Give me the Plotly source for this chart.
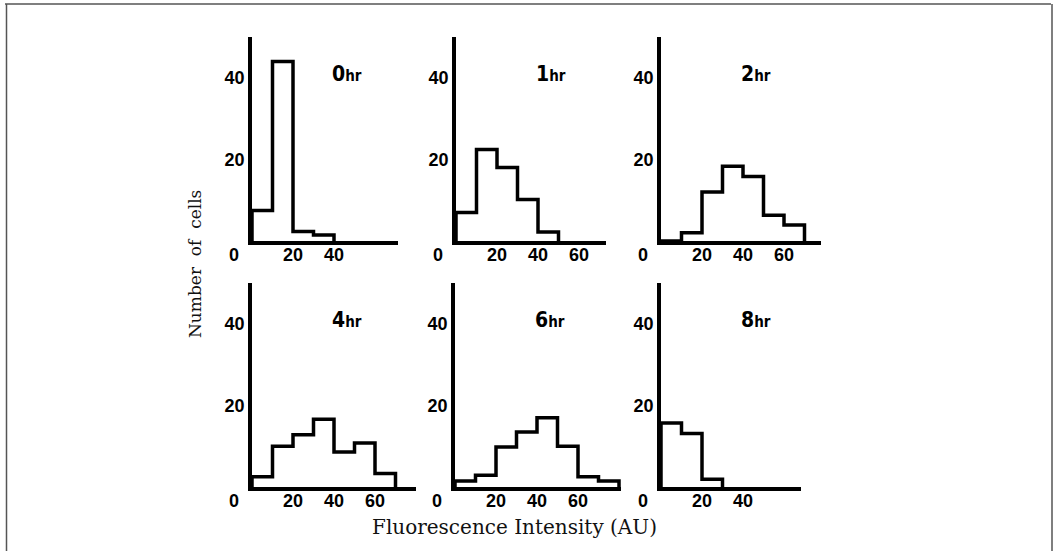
import plotly.graph_objects as go

# ---------------- data ----------------
hours = ["0", "1", "2", "4", "6", "8"]
bin_width = 10
counts_0hr = [7.5, 44, 2.3, 1.5]
counts_1hr = [7, 22.4, 18, 10.2, 2.2]
counts_2hr = [0, 2, 12, 18.3, 15.8, 6.3, 3.9]
counts_4hr = [2.5, 10, 12.8, 16.6, 8.6, 10.8, 3.3]
counts_6hr = [1.5, 2.9, 9.8, 13.5, 17, 10, 2.5, 1.5]
counts_8hr = [15.7, 13.1, 1.9]
all_counts = [counts_0hr, counts_1hr, counts_2hr, counts_4hr, counts_6hr, counts_8hr]
x_tick_vals = [[20, 40], [20, 40, 60], [20, 40, 60], [20, 40, 60], [20, 40, 60], [20, 40]]
y_tick_vals = [20, 40]
x_title = "Fluorescence Intensity (AU)"
y_title = "Number&nbsp; of&nbsp; cells"

# ---------------- layout geometry (pixels) ----------------
W, H = 1056, 551
px_per_unit = 2.05
panel_left = [252, 456, 661, 252, 455, 661]
panel_base = [241, 241, 241, 487, 487, 487]
panel_height = 204
x_max = [71, 73, 78, 80, 81, 68.5]
y_max = 50

def px(x):
    return x / W

def py(y):
    return 1 - y / H

fig = go.Figure()
layout = dict(
    width=W, height=H, autosize=False,
    margin=dict(l=0, r=0, t=0, b=0),
    paper_bgcolor="white", plot_bgcolor="white",
    showlegend=False,
)

annotations = []
tick_font = dict(family="Liberation Sans, Arial, sans-serif", size=18, color="black", weight="bold")

for i, counts in enumerate(all_counts):
    n = i + 1
    xa = "x" if n == 1 else f"x{n}"
    ya = "y" if n == 1 else f"y{n}"
    edges = [k * bin_width for k in range(len(counts) + 1)]
    xs = [0] + edges
    ys = [0] + list(counts) + [0]
    fig.add_trace(go.Scatter(
        x=xs, y=ys, mode="lines", line=dict(color="black", width=3.5, shape="hv"),
        xaxis=xa, yaxis=ya, hoverinfo="skip", cliponaxis=False,
    ))
    left = panel_left[i]
    right = left + x_max[i] * px_per_unit
    base = panel_base[i]
    top = base - panel_height
    layout[f"xaxis{'' if n == 1 else n}"] = dict(
        domain=[px(left), px(right)], anchor=ya, range=[0, x_max[i]],
        showgrid=False, zeroline=False, showline=True, linecolor="black", linewidth=3.5,
        tickvals=x_tick_vals[i], ticks="", tickfont=tick_font, ticklabelstandoff=-5,
    )
    layout[f"yaxis{'' if n == 1 else n}"] = dict(
        domain=[py(base), py(top)], anchor=xa, range=[0, y_max],
        showgrid=False, zeroline=False, showline=True, linecolor="black", linewidth=3.5,
        tickvals=y_tick_vals, ticks="", tickfont=tick_font, ticklabelstandoff=0,
    )
    # corner "0" label
    annotations.append(dict(
        text="0", xref=f"{xa} domain", yref=f"{ya} domain", x=0, y=0,
        xanchor="center", yanchor="top", xshift=-18, yshift=-2,
        showarrow=False, font=tick_font,
    ))
    # panel title
    annotations.append(dict(
        text=f"<b><span style='font-size:21px'>{hours[i]}</span><span style='font-size:15px'>hr</span></b>",
        xref="paper", yref="paper",
        x=px(left + 95), y=py(top + 37),
        xanchor="center", yanchor="middle", showarrow=False,
        font=dict(family="Liberation Sans Narrow, DejaVu Sans Condensed, Liberation Sans, sans-serif",
                  size=18, color="black"),
    ))

annotations.append(dict(
    text=y_title, xref="paper", yref="paper", x=px(195), y=py(264),
    xanchor="center", yanchor="middle", textangle=-90, showarrow=False,
    font=dict(family="DejaVu Serif, Liberation Serif, serif", size=17, color="#111"),
))
annotations.append(dict(
    text=x_title, xref="paper", yref="paper", x=px(514), y=py(527),
    xanchor="center", yanchor="middle", showarrow=False,
    font=dict(family="DejaVu Serif, Liberation Serif, serif", size=20, color="#111"),
))
layout["annotations"] = annotations

frame = dict(color="#555", width=1.5)
layout["shapes"] = [
    dict(type="line", xref="paper", yref="paper", x0=px(5), x1=px(1051), y0=py(4), y1=py(4), line=frame),
    dict(type="line", xref="paper", yref="paper", x0=px(6.5), x1=px(6.5), y0=py(4), y1=py(551), line=frame),
    dict(type="line", xref="paper", yref="paper", x0=px(1052), x1=px(1052), y0=py(4), y1=py(551), line=frame),
]

fig.update_layout(**layout)
fig.write_html(
    "out.html",
    config={"displayModeBar": False},
    post_script="document.body.style.margin='0';document.body.style.overflow='hidden';",
)
